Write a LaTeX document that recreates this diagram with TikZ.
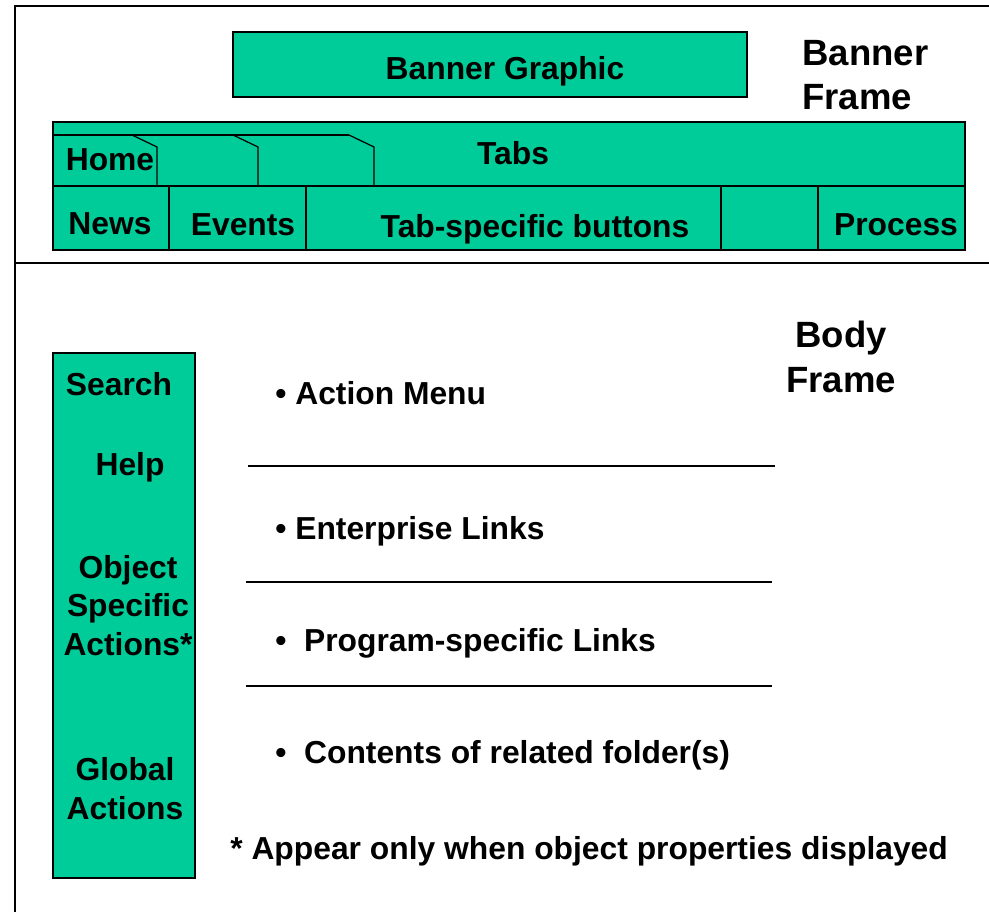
\documentclass[tikz,border=0pt]{standalone}
\usepackage{fontspec}
\setmainfont{Liberation Sans}
\usetikzlibrary{positioning}
\definecolor{mygreen}{RGB}{0,204,153}
\tikzset{
  panel/.style={draw=black, fill=mygreen, line width=0.8pt},
  btext/.style={font=\fontsize{18.1}{21.8}\selectfont\bfseries,
    inner sep=0pt, anchor=base},
  bltext/.style={btext, anchor=base west},
  colbox/.style={btext, align=center},
  framelabel/.style={font=\fontsize{20.8}{25.5}\selectfont\bfseries,
    inner sep=0pt, anchor=base west, align=left},
  rule/.style={line width=0.7pt},
  frameline/.style={line width=1.1pt}
}

\begin{document}
\begin{tikzpicture}[x=0.02cm, y=-0.02cm]
  \useasboundingbox (0,0) rectangle (989,912);

  % Page outline and frame split
  \draw[frameline] (15,912) -- (15,6) -- (989,6);
  \draw[frameline] (15,263) -- (989,263);

  % Banner frame (multi-line nodes sit on their last baseline)
  \draw[panel] (233,32) rectangle (747,97);
  \node[btext] (banner) at (505,80) {Banner Graphic};
  \node[framelabel] (bannerframe) at (802,110) {Banner\\Frame};

  % Tab bar
  \draw[panel] (53,122) rectangle (965,250);
  \draw[rule] (53,186) -- (965,186);
  \draw[rule] (53,135) -- (349,135);
  \foreach \x in {132,233,349}
    \draw[rule] (\x,135) -- ++(25,12) -- ++(0,39);
  \foreach \x in {169,306,721,818}
    \draw[rule] (\x,186) -- (\x,250);
  \node[btext] (home) at (110,171) {Home};
  \node[btext] (tabs) at (513,165) {Tabs};
  \node[btext] (news) at (110,234) {News};
  \node[btext] (events) at (243,235) {Events};
  \node[btext] (tabbuttons) at (535,237) {Tab-specific buttons};
  \node[btext] (process) at (896,235) {Process};

  % Body frame
  \node[framelabel, align=center, anchor=base] (bodyframe) at (841,392) {Body\\Frame};
  \draw[panel] (53,353) rectangle (195,878);
  \node[btext] (search) at (119,395) {Search};
  \node[btext] (help) at (130,475) {Help};
  \node[colbox] (objactions) at (128,655) {Object\\Specific\\Actions*};
  \node[colbox] (globactions) at (125,819) {Global\\Actions};

  % Body sections
  \node[bltext] (actionmenu) at (275,404) {• Action Menu};
  \draw[rule] (248,466) -- (775,466);
  \node[bltext] (entlinks) at (275,539) {• Enterprise Links};
  \draw[rule] (246,582) -- (772,582);
  \node[bltext] (proglinks) at (275,651) {•\ \ Program-specific Links};
  \draw[rule] (246,686) -- (772,686);
  \node[bltext] (folders) at (275,763) {•\ \ Contents of related folder(s)};
  \node[bltext] (footnote) at (230,859) {* Appear only when object properties displayed};
\end{tikzpicture}
\end{document}
